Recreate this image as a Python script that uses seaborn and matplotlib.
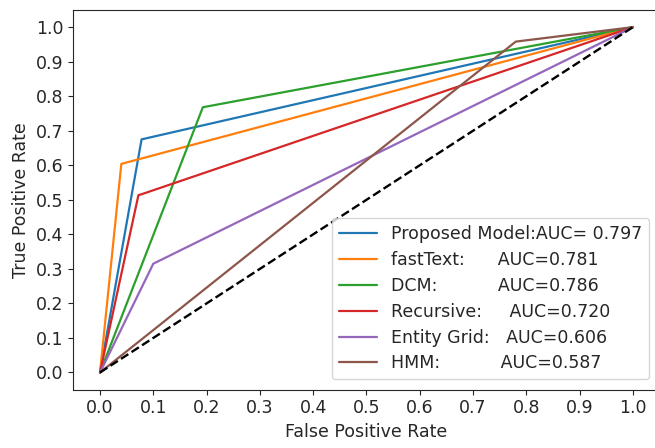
import numpy as np
import pandas as pd
import matplotlib
matplotlib.use('Agg')
import matplotlib.pyplot as plt
import seaborn as sns

# ROC points: (0,0) -> knee -> (1,1)
modelos = ['Proposed Model:AUC= 0.797',
           'fastText:      AUC=0.781',
           'DCM:           AUC=0.786',
           'Recursive:     AUC=0.720',
           'Entity Grid:   AUC=0.606',
           'HMM:           AUC=0.587']
fpr_knee = [0.078, 0.040, 0.193, 0.072, 0.100, 0.780]
tpr_knee = [0.675, 0.604, 0.768, 0.513, 0.315, 0.958]

linhas = []
for nome, fx, ty in zip(modelos, fpr_knee, tpr_knee):
    for ordem, (x, y) in enumerate([(0.0, 0.0), (fx, ty), (1.0, 1.0)]):
        linhas.append({'modelo': nome, 'ordem': ordem, 'fpr': x, 'tpr': y})
df = pd.DataFrame(linhas)

sns.set_style('ticks')
plt.rcParams['font.family'] = ['DejaVu Sans']
fs = 12.5

fig, ax = plt.subplots(figsize=(6.55, 4.48), dpi=100)
sns.lineplot(data=df, x='fpr', y='tpr', hue='modelo', units='modelo',
             estimator=None, sort=False, palette='tab10', linewidth=1.6, ax=ax)
ax.plot([0, 1], [0, 1], color='black', linestyle='--', linewidth=1.7)

ticks = np.arange(0, 1.01, 0.1)
ax.set_xticks(ticks)
ax.set_yticks(ticks)
ax.set_xticklabels([f'{v:.1f}' for v in ticks], fontsize=fs)
ax.set_yticklabels([f'{v:.1f}' for v in ticks], fontsize=fs)
ax.set_xlim(-0.05, 1.05)
ax.set_ylim(-0.05, 1.05)
ax.set_xlabel('False Positive Rate', fontsize=fs)
ax.set_ylabel('True Positive Rate', fontsize=fs)
ax.legend(loc='lower right', fontsize=fs, title=None, handlelength=2.2,
          labelspacing=0.45, borderaxespad=0.6)

plt.subplots_adjust(left=0.112, right=1.007, bottom=0.13, top=0.978)
plt.savefig('out.png', dpi=100)
